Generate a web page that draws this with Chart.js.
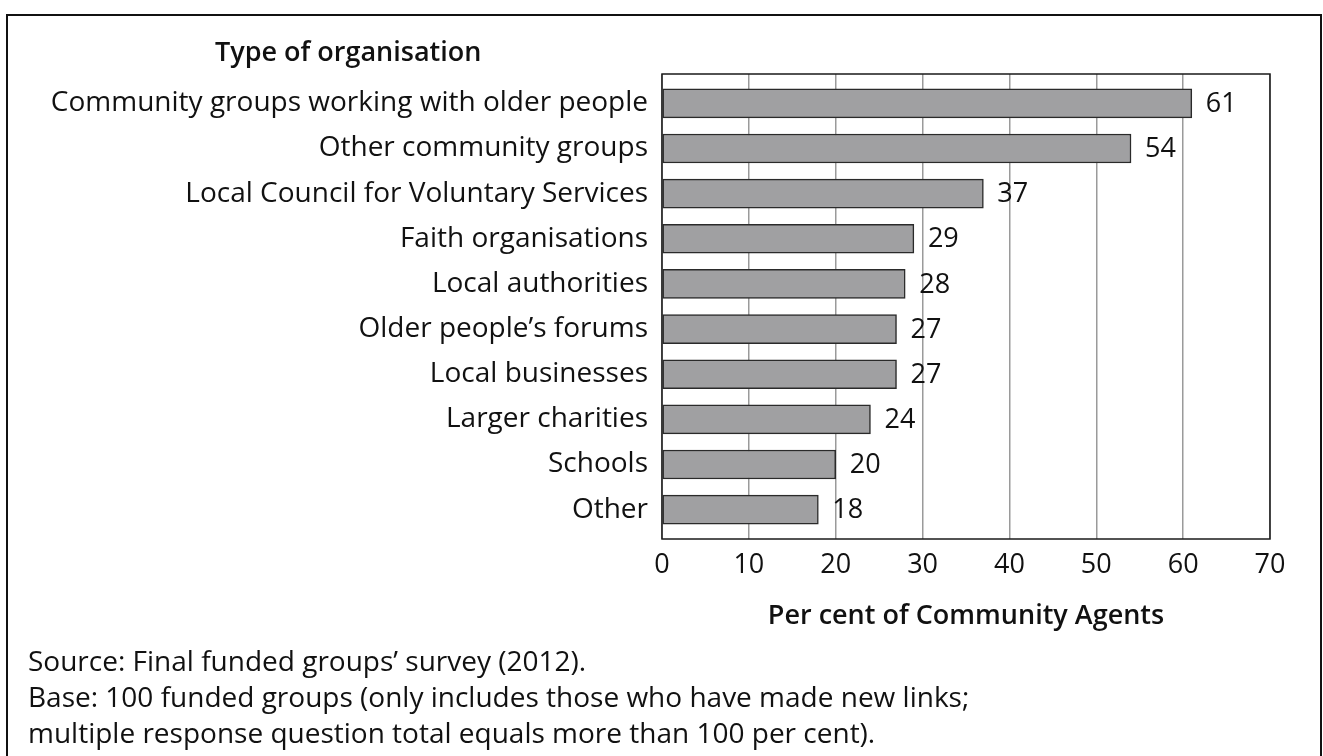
<!DOCTYPE html>
<html>
<head>
<meta charset="utf-8">
<script src="https://cdn.jsdelivr.net/npm/chart.js@4.4.1/dist/chart.umd.min.js"></script>
<style>
  html, body { margin: 0; padding: 0; background: #fff; }
  body { width: 1323px; height: 756px; position: relative; overflow: hidden; font-family: "Open Sans", sans-serif; color: #111; }
  #frame { position: absolute; left: 6px; top: 14px; width: 1316px; height: 760px; border: 2px solid #111; box-sizing: border-box; }
  #chartBox { position: absolute; left: 0; top: 0; width: 1323px; height: 756px; }
  .txt { position: absolute; white-space: nowrap; }
  #yTitle { left: 215px; top: 32px; font-size: 27px; font-weight: 600; }
  #notes { left: 28px; top: 642px; font-size: 28px; line-height: 36px; }
</style>
</head>
<body>
<div id="frame"></div>
<div id="chartBox"><canvas id="orgChart" width="1323" height="756"></canvas></div>
<div class="txt" id="yTitle">Type of organisation</div>
<div class="txt" id="notes">Source: Final funded groups’ survey (2012).<br>Base: 100 funded groups (only includes those who have made new links;<br>multiple response question total equals more than 100 per cent).</div>

<script>
const tiposOrg = [
  "Community groups working with older people",
  "Other community groups",
  "Local Council for Voluntary Services",
  "Faith organisations",
  "Local authorities",
  "Older people’s forums",
  "Local businesses",
  "Larger charities",
  "Schools",
  "Other",
];
const porcentajes = [61, 54, 37, 29, 28, 27, 27, 24, 20, 18];
const ticksX = [0, 10, 20, 30, 40, 50, 60, 70];

// Etiquetas con el valor a la derecha de cada barra
const valorBarras = {
  id: "valorBarras",
  afterDatasetsDraw(chart) {
    const ctx = chart.ctx;
    const meta = chart.getDatasetMeta(0);
    ctx.save();
    ctx.font = "27px 'Open Sans'";
    ctx.fillStyle = "#111";
    ctx.textAlign = "left";
    ctx.textBaseline = "middle";
    meta.data.forEach((bar, i) => {
      ctx.fillText(String(porcentajes[i]), bar.x + 14, bar.y + 1);
    });
    ctx.restore();
  },
};

// Marco negro del área de gráfico
const marco = {
  id: "marco",
  afterDraw(chart) {
    const a = chart.chartArea;
    const ctx = chart.ctx;
    ctx.save();
    ctx.strokeStyle = "#1a1a1a";
    ctx.lineWidth = 1.5;
    ctx.strokeRect(a.left, a.top, a.right - a.left, a.bottom - a.top);
    ctx.restore();
  },
};

new Chart(document.getElementById("orgChart").getContext("2d"), {
  type: "bar",
  data: {
    datasets: [
      {
        data: porcentajes.map((v, i) => ({ x: v, y: i })),
        backgroundColor: "#a0a0a2",
        borderColor: "#2a2a2a",
        borderWidth: 1.5,
        borderSkipped: false,
        barThickness: 29,
      },
    ],
  },
  options: {
    indexAxis: "y",
    responsive: false,
    animation: false,
    events: [],
    layout: { padding: { left: 0, top: 74, right: 53, bottom: 117 } },
    plugins: {
      legend: { display: false },
      tooltip: { enabled: false },
    },
    scales: {
      x: {
        type: "linear",
        min: 0,
        max: 70,
        bounds: "data",
        afterBuildTicks: (s) => {
          s.ticks = ticksX.map((v) => ({ value: v }));
        },
        afterFit: (s) => {
          s.height = 100;
        },
        grid: { color: "#9a9a9a", lineWidth: 1.5, drawTicks: false },
        border: { display: false },
        ticks: {
          padding: 10,
          color: "#111",
          font: { family: "Open Sans", size: 27 },
        },
        title: {
          display: true,
          text: "Per cent of Community Agents",
          color: "#111",
          font: { family: "Open Sans", size: 27, weight: "600" },
          padding: { top: 0, bottom: 6 },
        },
      },
      y: {
        type: "linear",
        reverse: true,
        offset: false,
        min: -0.65,
        max: 9.65,
        bounds: "data",
        afterBuildTicks: (s) => {
          s.ticks = tiposOrg.map((_, i) => ({ value: i }));
        },
        afterFit: (s) => {
          s.width = 662;
        },
        grid: { display: false, drawTicks: false, offset: false },
        border: { display: false },
        ticks: {
          autoSkip: false,
          padding: 14,
          color: "#111",
          font: { family: "Open Sans", size: 28 },
          callback: (v) => tiposOrg[v],
        },
      },
    },
  },
  plugins: [valorBarras, marco],
});
</script>
</body>
</html>
